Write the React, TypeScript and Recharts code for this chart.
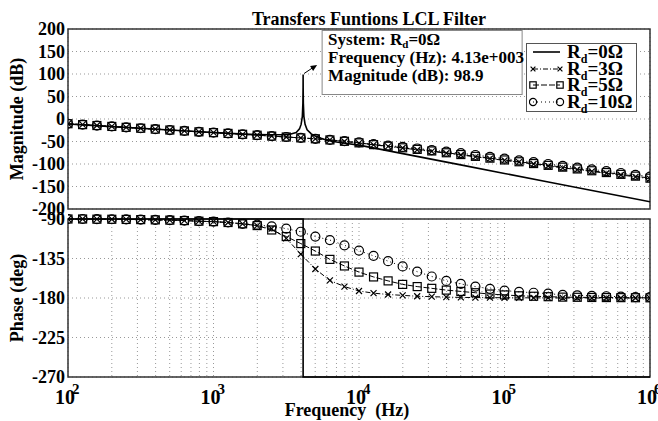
import React from "react";
import {
  LineChart,
  Line,
  XAxis,
  YAxis,
  CartesianGrid,
  ReferenceArea,
  ReferenceDot,
  Legend,
} from "recharts";

const FONT = '"Liberation Serif", "Times New Roman", serif';

// sample frequencies (Hz) of the damped curves
const freqs = [
  100, 126, 158, 200, 251, 316, 398, 501, 631, 794, 1000, 1259, 1585, 1995,
  2512, 3162, 3981, 5012, 6310, 7943, 10000, 12589, 15849, 19953, 25119,
  31623, 39811, 50119, 63096, 79433, 100000, 125893, 158489, 199526, 251189,
  316228, 398107, 501187, 630957, 794328, 1000000,
];

const magRd3 = [
  -10.5, -12.5, -14.5, -16.5, -18.5, -20.5, -22.5, -24.5, -26.5, -28.5, -30.3,
  -32, -34, -36, -38, -40, -42, -44, -46.5, -50, -53.5, -57.5, -61, -64.5,
  -68.5, -72, -76, -80, -84, -88, -92, -96, -100, -104.5, -108.5, -112.5,
  -116.5, -120.5, -124.5, -128.5, -133,
];
const magRd5 = [
  -10.5, -12.5, -14.5, -16.5, -18.5, -20.5, -22.5, -24.5, -26.5, -28.5, -30.3,
  -32, -34, -36, -38, -40, -42, -44, -46.5, -49.5, -53, -57, -60.5, -64,
  -67.5, -71, -75, -79, -83, -87, -91, -95, -99, -103, -107, -111, -115,
  -119, -123, -127, -131.5,
];
const magRd10 = [
  -10.5, -12.5, -14.5, -16.5, -18.5, -20.5, -22.5, -24.5, -26.5, -28.5, -30.3,
  -32, -34, -36, -38, -40, -42, -44, -46.5, -49, -52, -56, -59, -62, -65.5,
  -69, -72.5, -76, -80, -84, -88, -92, -96, -100, -104, -108, -112, -116,
  -120, -124, -128,
];

const phaseRd3 = [
  -90, -90, -90.2, -90.3, -90.5, -90.7, -91, -91.3, -91.8, -92.5, -93, -94,
  -95.5, -97.5, -101, -112, -130, -147, -160, -167, -172, -174.5, -176, -177,
  -178, -178.5, -179, -179.3, -179.5, -179.6, -179.7, -179.8, -179.8, -179.9,
  -179.9, -179.9, -180, -180, -180, -180, -180,
];
const phaseRd5 = [
  -90, -90, -90.2, -90.3, -90.5, -90.7, -91, -91.3, -91.8, -92.5, -93, -94,
  -95.5, -97.5, -102.5, -110, -118, -126.5, -136, -143.5, -150.5, -156,
  -160.5, -164.5, -167, -169, -171, -172.5, -174, -175.5, -176.5, -177.5,
  -178, -178.5, -179, -179.2, -179.4, -179.5, -179.6, -179.7, -179.8,
];
const phaseRd10 = [
  -90, -90, -90.2, -90.3, -90.5, -90.7, -91, -91.3, -91.8, -92.5, -93, -94,
  -95.5, -96.5, -98.5, -101, -104.5, -110, -114, -120, -126, -132, -138, -144,
  -150, -155.5, -160.5, -164, -167, -169.5, -171.5, -173, -174, -175, -176.5,
  -177, -177.5, -178, -178.5, -179, -179,
];

// undamped curve (Rd = 0)
const freqRd0Mag = [
  100, 200, 500, 1000, 1500, 2000, 2500, 3000, 3360, 3700, 3900, 4000, 4080,
  4115, 4127, 4130, 4133, 4145, 4180, 4260, 4400, 4700, 5000, 5500, 6000,
  7000, 8000, 10000, 20000, 50000, 100000, 200000, 500000, 1000000,
];
const magRd0 = [
  -11, -17, -24.5, -30, -33, -34.5, -35, -35, -34, -30, -22, -12, 6, 35, 70,
  98.9, 70, 35, 6, -12, -24, -33, -38, -43, -47, -51, -54, -58, -77, -102,
  -121, -140, -165, -184,
];
const freqRd0Phase = [100, 4130, 4130, 1000000];
const phaseRd0 = [-90, -90, -270, -270];

const decades = [100, 1000, 10000, 100000, 1000000];
const gridFreqs = decades
  .slice(0, -1)
  .flatMap((d) => [1, 2, 3, 4, 5, 6, 7, 8, 9].map((k) => k * d))
  .concat([1000000]);
const magTicks = [-200, -150, -100, -50, 0, 50, 100, 150, 200];
const phaseTicks = [-270, -225, -180, -135, -90];
const peak = { f: 4130, mag: 98.9 };

const zip = (xs: number[], ys: number[]) => xs.map((f, i) => ({ f, v: ys[i] }));

type Marker = "none" | "x" | "square" | "circle";

const series = [
  { name: "Rd0", label: "0", mag: zip(freqRd0Mag, magRd0), phase: zip(freqRd0Phase, phaseRd0), dash: undefined, width: 1.6, marker: "none" as Marker },
  { name: "Rd3", label: "3", mag: zip(freqs, magRd3), phase: zip(freqs, phaseRd3), dash: "5 2 1 2", width: 1, marker: "x" as Marker },
  { name: "Rd5", label: "5", mag: zip(freqs, magRd5), phase: zip(freqs, phaseRd5), dash: "6 2", width: 1, marker: "square" as Marker },
  { name: "Rd10", label: "10", mag: zip(freqs, magRd10), phase: zip(freqs, phaseRd10), dash: "1 3", width: 1, marker: "circle" as Marker },
];

function markerShape(kind: Marker, cx: number, cy: number, key?: string | number, s = 1) {
  if (kind === "x")
    return (
      <path key={key} d={`M${cx - 3 * s},${cy - 3 * s}L${cx + 3 * s},${cy + 3 * s}M${cx - 3 * s},${cy + 3 * s}L${cx + 3 * s},${cy - 3 * s}`} stroke="#000" strokeWidth={1.2} fill="none" />
    );
  if (kind === "square")
    return <rect key={key} x={cx - 4 * s} y={cy - 4 * s} width={8 * s} height={8 * s} stroke="#000" strokeWidth={1.2} fill="none" />;
  if (kind === "circle")
    return <circle key={key} cx={cx} cy={cy} r={4.5 * s} stroke="#000" strokeWidth={1.2} fill="none" />;
  return <g key={key} />;
}

const dotFor = (kind: Marker) =>
  kind === "none"
    ? false
    : (p: any) => {
        if (p.cx == null || p.cy == null) return <g key={p.index} />;
        return markerShape(kind, p.cx, p.cy, `${kind}-${p.index}`);
      };

const tickFont = { fill: "#000", fontSize: 18, fontWeight: "bold", fontFamily: FONT };

const yTitle = (text: string) => (p: any) => {
  const vb = p.viewBox;
  const cx = vb.x + 9;
  const cy = vb.y + vb.height / 2;
  return (
    <text x={cx} y={cy} transform={`rotate(-90 ${cx} ${cy})`} textAnchor="middle" dominantBaseline="central" fontSize={18} fontWeight="bold" fontFamily={FONT} fill="#000">
      {text}
    </text>
  );
};

const xTitle = (p: any) => {
  const vb = p.viewBox;
  return (
    <text x={vb.x + vb.width / 2 - 12} y={vb.y + 39} textAnchor="middle" fontSize={18} fontWeight="bold" fontFamily={FONT} fill="#000" style={{ whiteSpace: "pre" }}>
      {"Frequency  (Hz)"}
    </text>
  );
};

const DecadeTick = (p: any) => {
  const { x, y, payload } = p;
  const v = payload.value;
  const e = Math.round(Math.log10(v));
  if (Math.abs(v - Math.pow(10, e)) > 1e-6 * v) return <g />;
  return (
    <g fontWeight="bold" fontFamily={FONT} fill="#000">
      <text x={x - 3} y={y + 25} textAnchor="middle" fontSize={20}>10</text>
      <text x={x + 4} y={y + 15} fontSize={15}>{e}</text>
    </g>
  );
};

const PeakTip = (p: any) => {
  const { cx, cy } = p;
  if (cx == null) return <g />;
  const bx = cx + 19;
  const by = cy - 44;
  const txt = { fontSize: 17, fontWeight: "bold" as const, fontFamily: FONT, fill: "#000" };
  return (
    <g>
      <line x1={cx + 1} y1={cy - 1} x2={cx + 10} y2={cy - 7} stroke="#000" strokeWidth={1} />
      <path d={`M${cx + 14},${cy - 9.5} L${cx + 7},${cy - 8.5} L${cx + 10},${cy - 3.5} Z`} fill="#000" />
      <rect x={bx} y={by} width={200} height={64} fill="#fff" stroke="#888" strokeWidth={1} />
      <text x={bx + 6} y={by + 15} {...txt}>
        System: R<tspan fontSize={11} dy={3}>d</tspan><tspan dy={-3}>=0Ω</tspan>
      </text>
      <text x={bx + 6} y={by + 33} {...txt}>Frequency (Hz): 4.13e+003</text>
      <text x={bx + 6} y={by + 51} {...txt}>Magnitude (dB): 98.9</text>
    </g>
  );
};

const LegendBox = () => (
  <div style={{ border: "1px solid #555", background: "#fff", padding: "0 3px 1px 2px", fontFamily: FONT, fontWeight: "bold", fontSize: 19, color: "#000", width: 104 }}>
    {series.map((s) => (
      <div key={s.name} style={{ display: "flex", alignItems: "center", height: 16.5, whiteSpace: "nowrap" }}>
        <svg width={38} height={14} style={{ flex: "none" }}>
          <line x1={4} x2={31} y1={7} y2={7} stroke="#000" strokeWidth={s.width} strokeDasharray={s.dash} />
          {markerShape(s.marker, 4, 7, "a", 0.8)}
          {markerShape(s.marker, 31, 7, "b", 0.8)}
        </svg>
        <span style={{ lineHeight: "16px" }}>
          R<sub style={{ fontSize: 12, lineHeight: 0 }}>d</sub>={s.label}Ω
        </span>
      </div>
    ))}
  </div>
);

export default function App() {
  return (
    <div style={{ position: "absolute", left: 0, top: 0, width: 658, height: 421, background: "#fff" }}>
      <div style={{ position: "absolute", left: 80, top: 10, width: 578, textAlign: "center", fontFamily: FONT, fontWeight: "bold", fontSize: 18, lineHeight: "18px", color: "#000", whiteSpace: "nowrap" }}>
        Transfers Funtions LCL Filter
      </div>

      <div style={{ position: "absolute", left: 0, top: 209 }}>
        <LineChart width={658} height={212} margin={{ top: 10, right: 8, bottom: 0, left: 8 }}>
          <CartesianGrid stroke="#999" strokeDasharray="1 3" />
          <XAxis dataKey="f" type="number" scale="log" domain={[100, 1000000]} allowDataOverflow ticks={gridFreqs} interval={0} height={44} tick={<DecadeTick />} axisLine={false} tickLine={false} tickSize={0} label={{ content: xTitle }} />
          <YAxis type="number" domain={[-270, -90]} ticks={phaseTicks} interval={0} width={60} tick={tickFont} tickSize={0} tickMargin={3} axisLine={false} tickLine={false} label={{ content: yTitle("Phase (deg)") }} />
          {series.map((s) => (
            <Line key={s.name} name={s.name} data={s.phase} dataKey="v" type="linear" stroke="#000" strokeWidth={s.width} strokeDasharray={s.dash} dot={dotFor(s.marker)} activeDot={false} isAnimationActive={false} />
          ))}
          <ReferenceArea x1={100} x2={1000000} y1={-270} y2={-90} fill="none" stroke="#333" strokeWidth={1.5} />
        </LineChart>
      </div>

      <div style={{ position: "absolute", left: 0, top: 0 }}>
        <LineChart width={658} height={220} margin={{ top: 29, right: 8, bottom: 11, left: 8 }}>
          <CartesianGrid stroke="#999" strokeDasharray="1 3" />
          <XAxis dataKey="f" type="number" scale="log" domain={[100, 1000000]} allowDataOverflow ticks={gridFreqs} interval={0} height={0} tick={false} axisLine={false} tickLine={false} />
          <YAxis type="number" domain={[-200, 200]} ticks={magTicks} interval={0} width={60} tick={tickFont} tickSize={0} tickMargin={3} axisLine={false} tickLine={false} label={{ content: yTitle("Magnitude (dB)") }} />
          {series.map((s) => (
            <Line key={s.name} name={s.name} data={s.mag} dataKey="v" type="linear" stroke="#000" strokeWidth={s.width} strokeDasharray={s.dash} dot={dotFor(s.marker)} activeDot={false} isAnimationActive={false} />
          ))}
          <ReferenceArea x1={100} x2={1000000} y1={-200} y2={200} fill="none" stroke="#333" strokeWidth={1.5} />
          <ReferenceDot x={peak.f} y={peak.mag} r={0} shape={PeakTip} />
          <Legend layout="horizontal" verticalAlign="middle" align="center" content={LegendBox} wrapperStyle={{ top: 43, left: 526, width: 112 }} />
        </LineChart>
      </div>
    </div>
  );
}
